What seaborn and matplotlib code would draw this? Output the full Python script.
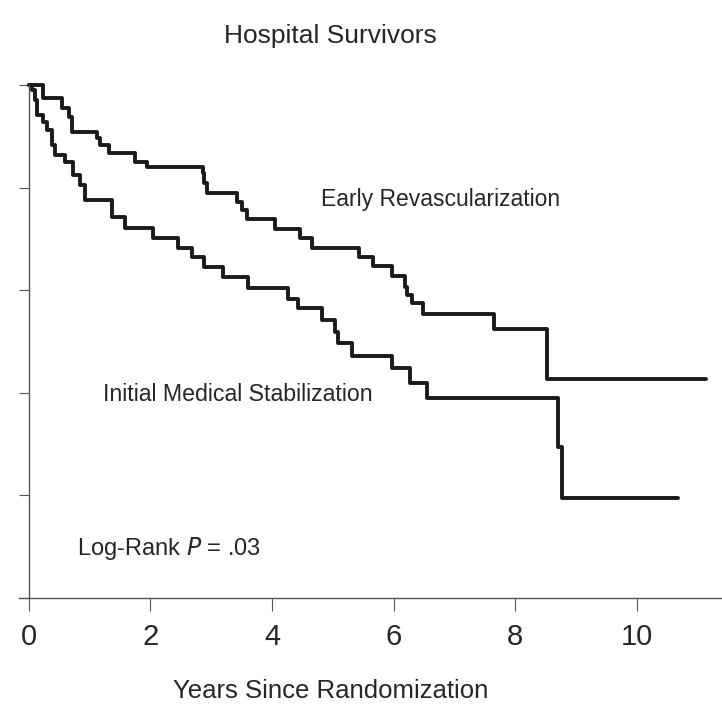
import matplotlib
matplotlib.use("Agg")
import matplotlib.pyplot as plt
import numpy as np
import pandas as pd
import seaborn as sns

# Kaplan-Meier steps (years, survival fraction)
early_years = [0.0, 0.23, 0.54, 0.66, 0.71, 1.13, 1.17, 1.32, 1.74, 1.94, 2.86, 2.89, 2.93,
               3.42, 3.50, 3.59, 4.05, 4.46, 4.65, 5.43, 5.66, 5.97, 6.18, 6.22, 6.30, 6.48,
               7.65, 8.52, 11.13]
early_surv = [1.0, 0.975, 0.955, 0.938, 0.908, 0.897, 0.883, 0.867, 0.850, 0.840, 0.828, 0.809,
              0.789, 0.772, 0.756, 0.739, 0.719, 0.702, 0.682, 0.665, 0.647, 0.628, 0.606, 0.591,
              0.575, 0.554, 0.524, 0.427, 0.427]

medical_years = [0.0, 0.05, 0.10, 0.13, 0.23, 0.30, 0.38, 0.43, 0.59, 0.72, 0.84, 0.92, 1.37,
                 1.58, 2.04, 2.45, 2.68, 2.89, 3.19, 3.60, 4.26, 4.42, 4.82, 5.03, 5.08, 5.31,
                 5.97, 6.27, 6.55, 8.70, 8.77, 10.67]
medical_surv = [1.0, 0.990, 0.971, 0.942, 0.928, 0.912, 0.883, 0.864, 0.850, 0.825, 0.805,
                0.776, 0.743, 0.721, 0.702, 0.682, 0.665, 0.645, 0.626, 0.604, 0.583, 0.565,
                0.542, 0.519, 0.497, 0.472, 0.448, 0.419, 0.390, 0.294, 0.195, 0.195]

x_ticks = [0, 2, 4, 6, 8, 10]
y_ticks = [0.0, 0.2, 0.4, 0.6, 0.8, 1.0]

df = pd.concat([
    pd.DataFrame({"years": early_years, "surv": early_surv, "arm": "Early Revascularization"}),
    pd.DataFrame({"years": medical_years, "surv": medical_surv, "arm": "Initial Medical Stabilization"}),
])

sns.set_style("white")
plt.rcParams["font.family"] = ["Liberation Sans", "DejaVu Sans"]

fig = plt.figure(figsize=(7.22, 7.15), dpi=100)
ax = fig.add_axes([19 / 722, 1 - 598 / 715, 703 / 722, 513 / 715])

sns.lineplot(data=df, x="years", y="surv", hue="arm", estimator=None, sort=False,
             palette=["#1a1a1a", "#1a1a1a"], linewidth=2.8, drawstyle="steps-post",
             legend=False, ax=ax, clip_on=False)

ax.set_xlim(-0.16, 11.4)
ax.set_ylim(0, 1.0)
ax.spines["left"].set_position(("data", 0))
ax.spines["top"].set_visible(False)
ax.spines["right"].set_visible(False)
for s in ("left", "bottom"):
    ax.spines[s].set_color("#555555")
    ax.spines[s].set_linewidth(1.0)

ax.set_xticks(x_ticks)
ax.set_xticklabels([str(t) for t in x_ticks])
ax.set_yticks(y_ticks)
ax.set_yticklabels([])
ax.tick_params(axis="x", direction="out", length=9, width=0.8, color="#555555",
               labelsize=21, pad=9, bottom=True)
ax.tick_params(axis="y", direction="out", length=7, width=0.8, color="#555555", left=True)

ax.set_xlabel("Years Since Randomization", fontsize=18.5)
ax.set_ylabel("")
ax.xaxis.set_label_coords((331 - 19) / 703, -0.158)

fig.text(330 / 722, 1 - 36 / 715, "Hospital Survivors", fontsize=19, ha="center", va="center")
ax.text(4.80, 0.776, "Early Revascularization", fontsize=16.5, ha="left", va="center")
ax.text(1.22, 0.396, "Initial Medical Stabilization", fontsize=16.7, ha="left", va="center")
ax.text(0.79, 0.097, "Log-Rank $\\it{P}$ = .03", fontsize=17, ha="left", va="center")

fig.savefig("out.png", dpi=100)
